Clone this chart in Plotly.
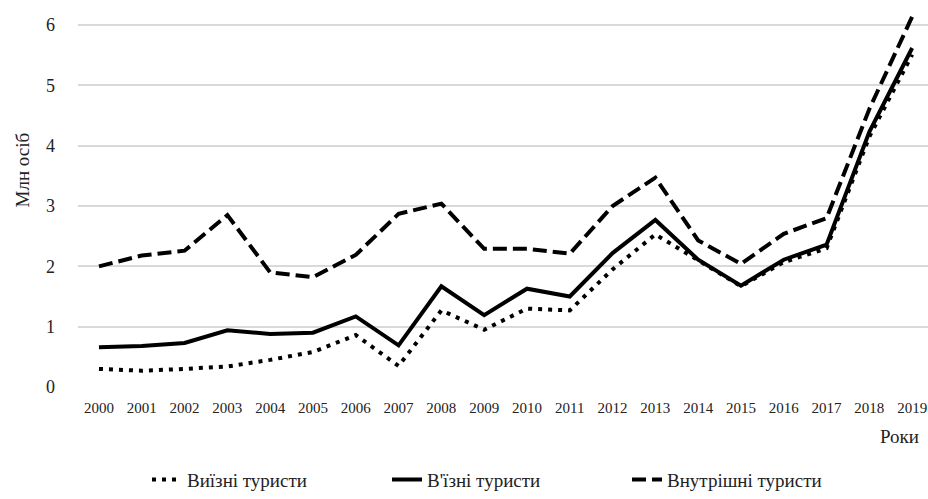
import plotly.graph_objects as go

years = [str(y) for y in range(2000, 2020)]
outbound = [0.30, 0.27, 0.30, 0.34, 0.45, 0.58, 0.86, 0.35, 1.27, 0.95, 1.30, 1.27, 1.95, 2.53, 2.10, 1.67, 2.07, 2.30, 4.15, 5.51]
inbound = [0.66, 0.68, 0.73, 0.94, 0.88, 0.90, 1.17, 0.69, 1.67, 1.19, 1.63, 1.50, 2.22, 2.77, 2.11, 1.68, 2.11, 2.36, 4.23, 5.62]
domestic = [2.00, 2.18, 2.26, 2.85, 1.90, 1.82, 2.19, 2.87, 3.04, 2.29, 2.29, 2.21, 3.00, 3.47, 2.43, 2.04, 2.54, 2.80, 4.61, 6.14]
names = ["Виїзні туристи", "В'їзні туристи", "Внутрішні туристи"]
y_ticks = [0, 1, 2, 3, 4, 5, 6]

FONT = "Times New Roman, Liberation Serif, serif"
ML, MR, MT, MB = 78, 0, 7, 106
W, H = 928, 499
pw, ph = W - ML - MR, H - MT - MB


def px_to_paper(x, y):
    return (x - ML) / pw, (H - MB - y) / ph


fig = go.Figure()
fig.add_trace(go.Scatter(x=years, y=outbound, name=names[0], mode="lines",
                         line=dict(color="black", width=4, dash="4px,6px")))
fig.add_trace(go.Scatter(x=years, y=inbound, name=names[1], mode="lines",
                         line=dict(color="black", width=4)))
fig.add_trace(go.Scatter(x=years, y=domestic, name=names[2], mode="lines",
                         line=dict(color="black", width=4, dash="14px,6px")))

lx, ly = px_to_paper(147, 487)
rx, ry = px_to_paper(899, 443)
tx, ty = px_to_paper(22, 172)

fig.update_layout(
    width=W, height=H,
    margin=dict(l=ML, r=MR, t=MT, b=MB),
    paper_bgcolor="white", plot_bgcolor="white",
    font=dict(family=FONT, color="#222"),
    showlegend=True,
    legend=dict(orientation="h", x=lx, xanchor="left", y=ly, yanchor="middle",
                entrywidth=195, entrywidthmode="pixels",
                font=dict(family=FONT, size=19, color="#222"), traceorder="normal"),
    xaxis=dict(type="category", range=[-0.49, 19.37], showgrid=False, showline=False,
               zeroline=False, ticks="", automargin=False,
               tickfont=dict(family=FONT, size=15, color="#222"),
               ticklabelstandoff=10),
    yaxis=dict(range=[0, 6.3], tickvals=y_ticks, showgrid=True, gridcolor="#d9d9d9",
               gridwidth=1.5, zeroline=False, showline=False, ticks="", automargin=False,
               tickfont=dict(family=FONT, size=18, color="#222"), ticklabelstandoff=22),
    annotations=[
        dict(text="Роки", x=rx, y=ry, xref="paper", yref="paper", showarrow=False,
             xanchor="center", yanchor="middle",
             font=dict(family=FONT, size=19, color="#222")),
        dict(text="Млн осіб", textangle=-90, x=tx, y=ty, xref="paper", yref="paper",
             xanchor="center", yanchor="middle",
             showarrow=False, font=dict(family=FONT, size=19, color="#222")),
    ],
)

fig.write_html("out.html", config={"displayModeBar": False},
               post_script="document.body.style.margin='0';")
